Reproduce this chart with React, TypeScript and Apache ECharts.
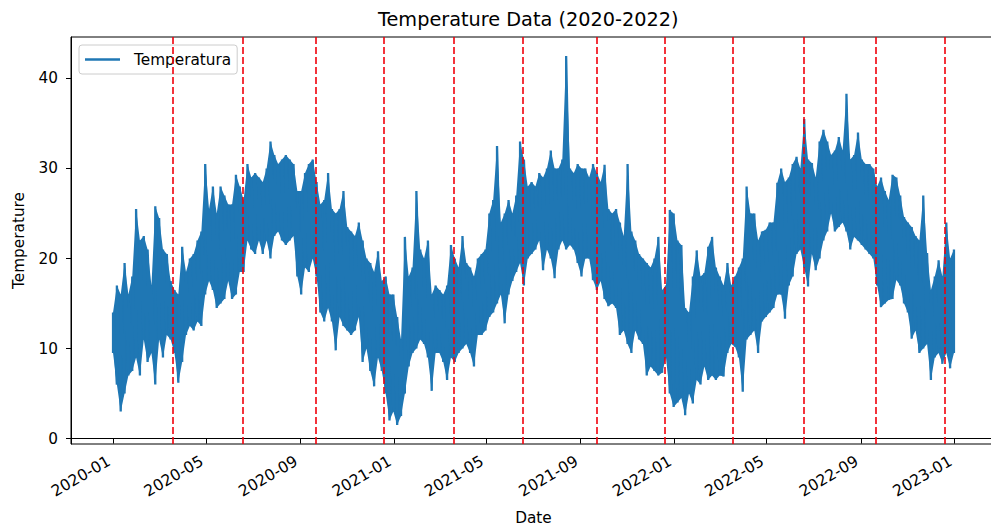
import React, { useEffect, useRef } from "react";
import * as echarts from "echarts";

const FONT = "DejaVu Sans";
const DAY = 86400000;
const START = Date.UTC(2020, 0, 1);
const SAMPLE_STEP_DAYS = 5;

// Upper envelope (daily highs) read every 5 days from 2020-01-01
const dailyHigh = [
  14, 17, 16, 19.5, 16, 18, 25.5, 22, 22.5, 21,
  17, 25.8, 24.5, 21, 20.5, 17.5, 16.5, 16, 21.3, 18.5,
  20, 20.5, 22, 23, 30.5, 25.5, 28, 25, 28, 27,
  26, 26, 29.3, 28, 26.5, 30.5, 29, 29.5, 29, 28.5,
  30, 33, 31.5, 30.5, 31, 31.5, 31, 30.5, 27.5, 27.5,
  29.5, 30.5, 31, 28.5, 26, 26.5, 29.5, 25.5, 25, 25.5,
  27.5, 23.5, 23, 22.5, 24, 22, 20, 19.5, 18.5, 20.8,
  17.5, 18, 16, 16, 13.5, 11, 22.4, 18, 19, 27.5,
  21, 20, 22, 16, 17, 16.5, 16, 17, 21.5, 20,
  19, 22.5, 19.5, 19, 18, 20, 20.5, 21, 25, 26.5,
  32.5, 24, 25, 26.5, 25, 27, 33, 31, 28, 28.5,
  28, 29.5, 29, 30, 32, 30, 30, 31, 42.5, 30,
  29.5, 30.5, 30, 30, 29, 30.5, 29.5, 28.5, 30.4, 25.5,
  25, 25.5, 24, 22.5, 30.5, 23, 22, 20.5, 20, 19.5,
  19, 20, 22.4, 16.5, 17, 25.4, 25, 22, 21.5, 14.5,
  14, 18, 20.9, 18, 18.4, 21.3, 22.4, 19, 18, 17,
  19.5, 17, 18, 19, 20, 28, 25, 25, 22, 23,
  23.2, 24, 24, 28.4, 30, 28.5, 29, 30.5, 31.3, 30,
  35.5, 31, 30.6, 29, 33, 34.3, 33, 31.5, 32, 33.5,
  32, 38.3, 31, 31.5, 34, 31, 30.5, 30.5, 30, 28,
  29, 27.5, 26.5, 29.3, 29, 27, 24.6, 24, 23.5, 22.5,
  22, 27, 20.6, 16.5, 18, 19.8, 18, 24, 20, 21,
];

// Lower envelope (daily lows) read every 5 days from 2020-01-01
const dailyLow = [
  9.5, 6, 3, 5, 7, 7.5, 9, 7, 11, 8.5,
  9.5, 6, 11, 9, 11.5, 11, 9.5, 6.2, 8.5, 11.5,
  12.5, 12, 13, 12.5, 16, 17.5, 16.5, 14.5, 15, 15.5,
  17.5, 15.5, 16, 18.5, 18.5, 22, 21, 20.5, 22, 20.5,
  22, 20, 22.5, 23, 22, 21.5, 22, 22.5, 18, 16,
  19, 18.5, 20, 18, 14, 13, 14.5, 13, 9.8, 13.5,
  12.5, 12, 11.5, 12, 13.5, 8.5, 10, 7.5, 5.8, 9,
  7.5, 5, 2, 3, 1.5, 2.5, 5, 8, 9.5, 10,
  11, 10.5, 9, 5.3, 9.5, 9.5, 8.5, 6.5, 9, 8.5,
  9.5, 10, 10.5, 9.5, 8, 11.5, 11.5, 12, 13.5, 14,
  15, 16, 12.8, 16, 17.5, 18.5, 19.5, 17, 20, 20.5,
  21, 22, 18.7, 21, 20, 17.8, 21, 22, 21, 21.5,
  21, 19.5, 18, 20, 20, 17.6, 16.5, 17.5, 15.5, 14.7,
  15, 14.5, 11.5, 12, 10.5, 9.5, 12, 11, 10.5, 7,
  8, 7.5, 7, 7.3, 9, 5, 3.5, 4, 4.5, 2.6,
  5, 3.9, 6.5, 6, 8, 6.5, 7, 6.5, 7, 6.9,
  9.5, 10.5, 10.2, 9, 5.2, 11, 11.5, 12, 9.5, 13,
  13.5, 14, 14.5, 16, 16, 13.3, 17, 18, 20.5, 21,
  19, 16.9, 20.5, 18.7, 20, 22, 23, 25, 23, 23.5,
  24, 23, 21, 22.4, 22, 21.5, 21, 20.5, 20, 17,
  14.6, 15, 15.4, 15.5, 17.6, 17, 15, 14, 11.1, 12,
  9.5, 10, 10.5, 6.5, 9, 9.5, 8.3, 9.5, 7.8, 9.5,
];

const xTickLabels = [
  "2020-01", "2020-05", "2020-09", "2021-01", "2021-05",
  "2021-09", "2022-01", "2022-05", "2022-09", "2023-01",
];
const yTickValues = [0, 10, 20, 30, 40];
const seasonLines = [
  "2020-03-19", "2020-06-18", "2020-09-21", "2020-12-19",
  "2021-03-20", "2021-06-18", "2021-09-22", "2021-12-19",
  "2022-03-18", "2022-06-19", "2022-09-20", "2022-12-19",
];

function parseDate(s: string): number {
  const [y, m, d] = s.split("-").map(Number);
  return Date.UTC(y, m - 1, d || 1);
}

function fmtMonth(v: number): string {
  const dt = new Date(v);
  const m = dt.getUTCMonth() + 1;
  return `${dt.getUTCFullYear()}-${m < 10 ? "0" + m : m}`;
}

export default function App() {
  const ref = useRef<HTMLDivElement>(null);

  useEffect(() => {
    if (!ref.current) return;
    const chart = echarts.init(ref.current, null, { renderer: "svg" });

    const times = dailyLow.map((_, i) => START + i * SAMPLE_STEP_DAYS * DAY);
    const lineData: [number, number][] = [];
    times.forEach((t, i) => {
      lineData.push([t, dailyLow[i]]);
      lineData.push([t, dailyHigh[i]]);
    });

    const lastDay = START + 1095 * DAY;
    const margin = (lastDay - START) * 0.05;
    const xTickValues = xTickLabels.map(parseDate);

    const textBase = { fontFamily: FONT, color: "#000" };
    const axisLineStyle = { color: "#000", width: 1 };
    const BLUE = "#1f77b4";

    chart.setOption({
      animation: false,
      title: {
        text: "Temperature Data (2020-2022)",
        left: 378,
        top: 10,
        padding: 0,
        textStyle: { ...textBase, fontSize: 19.3, fontWeight: "normal" },
      },
      legend: {
        data: ["Temperatura"],
        left: 79,
        top: 45,
        padding: [6, 6, 6, 6],
        itemWidth: 35,
        itemHeight: 2.3,
        icon: "rect",
        backgroundColor: "rgba(255,255,255,0.8)",
        borderColor: "#cccccc",
        borderWidth: 1,
        borderRadius: 3,
        textStyle: { ...textBase, fontSize: 15.3, padding: [0, 0, 0, 9], lineHeight: 17 },
      },
      grid: {
        left: 71,
        top: 37,
        width: 925,
        height: 407,
        show: true,
        borderColor: "#000",
        borderWidth: 1,
        backgroundColor: "transparent",
        containLabel: false,
        outerBoundsMode: "none",
      },
      xAxis: {
        type: "value",
        min: START - margin,
        max: lastDay + margin,
        name: "Date",
        nameLocation: "middle",
        nameGap: 66,
        nameTextStyle: { ...textBase, fontSize: 15.3 },
        axisLine: { show: true, lineStyle: axisLineStyle },
        axisTick: { show: true, length: 5, customValues: xTickValues, lineStyle: axisLineStyle },
        axisLabel: {
          customValues: xTickValues,
          rotate: 30,
          margin: 23,
          align: "right",
          verticalAlign: "bottom",
          formatter: (v: number) => fmtMonth(v),
          ...textBase,
          fontSize: 15.6,
          hideOverlap: false,
        },
        splitLine: { show: false },
      },
      yAxis: {
        type: "value",
        min: -0.6,
        max: 44.6,
        name: "Temperature",
        nameLocation: "middle",
        nameGap: 45,
        nameTextStyle: { ...textBase, fontSize: 15.3 },
        axisLine: { show: true, lineStyle: axisLineStyle },
        axisTick: { show: true, length: 5, customValues: yTickValues, lineStyle: axisLineStyle },
        axisLabel: { customValues: yTickValues, margin: 13, ...textBase, fontSize: 15.3 },
        splitLine: { show: false },
      },
      series: [
        {
          type: "custom",
          name: "envelope",
          silent: true,
          data: [[START, dailyLow[0]]],
          renderItem: (_params: any, api: any) => {
            const upper = times.map((t, i) => api.coord([t, dailyHigh[i]]));
            const lower = times.map((t, i) => api.coord([t, dailyLow[i]])).reverse();
            return {
              type: "polygon",
              shape: { points: upper.concat(lower) },
              style: { fill: BLUE, stroke: "none" },
            };
          },
        },
        {
          type: "line",
          name: "Temperatura",
          data: lineData,
          symbol: "none",
          showSymbol: false,
          lineStyle: { color: BLUE, width: 2.3 },
          itemStyle: { color: BLUE },
          emphasis: { disabled: true },
          markLine: {
            silent: true,
            symbol: ["none", "none"],
            label: { show: false },
            lineStyle: { color: "rgba(240,0,10,0.8)", type: [7, 3], width: 2 },
            data: seasonLines.map((s) => ({ xAxis: parseDate(s) })),
          },
        },
      ],
    });

    return () => chart.dispose();
  }, []);

  return (
    <div
      ref={ref}
      style={{ position: "absolute", left: 0, top: 0, width: 991, height: 532, background: "#fff" }}
    />
  );
}
